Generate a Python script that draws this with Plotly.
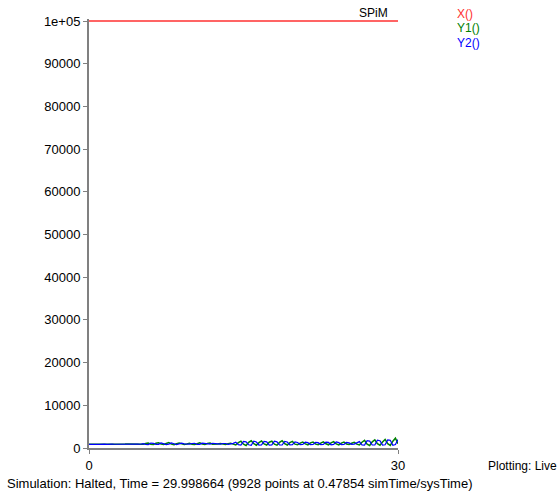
import plotly.graph_objects as go

# Simulation time grid (0 .. 30, step 0.25)
time = [round(i * 0.25, 2) for i in range(121)]

# Species X stays at its initial population
x_time = [0, 30]
x_vals = [100000, 100000]

y1_vals = [
    900, 920, 880, 950, 900, 870, 930, 960, 900, 880, 920, 950, 890, 870, 910, 940, 900, 880, 930, 900, 890,
    850, 1050, 1150, 900, 800, 1100, 1200, 950, 820, 1050, 1250, 900, 780, 1000, 1150, 1000, 850, 950, 1100, 900,
    820, 1000, 1200, 950, 800, 1050, 1150, 900, 850, 950, 1050, 950, 850, 1000, 1100, 900,
    700, 1250, 1600, 900, 600, 1350, 1700, 1000, 650, 1250, 1650, 950, 700, 1350, 1600, 900, 650, 1300, 1700, 1000, 700, 1250, 1550, 900,
    750, 1150, 1400, 950, 750, 1200, 1400, 900, 780, 1150, 1450, 1000, 750, 1200, 1500, 950, 700, 1150, 1400, 950, 800, 1100, 1350, 900,
    700, 1350, 1800, 900, 600, 1450, 1900, 1000, 650, 1400, 2000, 1000, 600, 1600, 2300, 1000,
]

y2_vals = [
    850, 900, 950, 880, 860, 940, 900, 870, 950, 920, 880, 900, 950, 900, 870, 920, 950, 880, 900, 940, 880,
    1000, 850, 800, 1150, 1100, 850, 850, 1200, 1050, 800, 900, 1200, 1000, 800, 950, 1150, 950, 850, 900, 1050,
    1100, 850, 850, 1150, 1050, 850, 900, 1100, 1000, 850, 900, 1050, 1050, 850, 900, 1100,
    1350, 800, 700, 1550, 1450, 750, 650, 1600, 1400, 700, 750, 1550, 1450, 700, 750, 1600, 1450, 700, 700, 1550, 1400, 750, 800, 1450,
    1300, 800, 850, 1350, 1250, 800, 850, 1300, 1250, 800, 850, 1350, 1300, 750, 850, 1400, 1250, 800, 850, 1300, 1200, 850, 900, 1300,
    1500, 750, 700, 1700, 1600, 700, 700, 1850, 1700, 700, 750, 1900, 1800, 650, 800, 2000,
]

y_ticks = [0, 10000, 20000, 30000, 40000, 50000, 60000, 70000, 80000, 90000, 100000]
y_tick_text = ["0", "10000", "20000", "30000", "40000", "50000", "60000", "70000", "80000", "90000", "1e+05"]
x_ticks = [0, 30]

RED = "#ff3030"
GREEN = "#008000"
BLUE = "#0000ff"
FONT = "Liberation Sans"

W, H = 558, 494
ML, MR, MT, MB = 89, 160, 19, 46

fig = go.Figure()
fig.add_trace(go.Scatter(x=x_time, y=x_vals, mode="lines", line=dict(color=RED, width=1.5), name="X()"))
fig.add_trace(go.Scatter(x=time, y=y1_vals, mode="lines", line=dict(color=GREEN, width=1.5), name="Y1()"))
fig.add_trace(go.Scatter(x=time, y=y2_vals, mode="lines", line=dict(color=BLUE, width=1.2), name="Y2()"))

fig.update_layout(
    width=W, height=H,
    margin=dict(l=ML, r=MR, t=MT, b=MB),
    paper_bgcolor="white", plot_bgcolor="white",
    showlegend=False,
    font=dict(family=FONT, size=12, color="black"),
    xaxis=dict(range=[0, 30], tickvals=x_ticks, ticks="outside", ticklen=4, tickcolor="#808080",
               showgrid=False, zeroline=False, showline=True, linecolor="#808080", linewidth=2,
               tickfont=dict(family=FONT, size=13)),
    yaxis=dict(range=[0, 100470], tickvals=y_ticks, ticktext=y_tick_text, ticks="outside", ticklen=4,
               tickcolor="#808080", showgrid=False, zeroline=False, showline=True, linecolor="#808080",
               linewidth=2, tickfont=dict(family=FONT, size=13)),
)

annotations = [
    dict(text="SPiM", x=390, y=13, xanchor="right", size=12, color="black"),
    dict(text="X()", x=455, y=14, xanchor="left", size=12, color=RED),
    dict(text="Y1()", x=455, y=28, xanchor="left", size=12, color=GREEN),
    dict(text="Y2()", x=455, y=43, xanchor="left", size=12, color=BLUE),
    dict(text="Plotting: Live", x=486, y=466, xanchor="left", size=12, color="black"),
    dict(text="Simulation: Halted, Time = 29.998664 (9928 points at 0.47854 simTime/sysTime)",
         x=5, y=483, xanchor="left", size=13, color="black"),
]
for a in annotations:
    fig.add_annotation(xref="paper", yref="paper", showarrow=False,
                       x=(a["x"] - ML) / (W - ML - MR), y=(H - MB - a["y"]) / (H - MT - MB),
                       text=a["text"], xanchor=a["xanchor"], yanchor="middle",
                       font=dict(family=FONT, size=a["size"], color=a["color"]))

fig.write_html("out.html")
